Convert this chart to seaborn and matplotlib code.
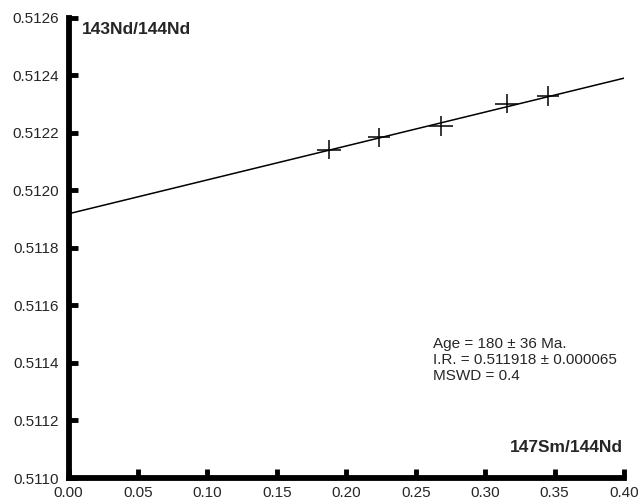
import numpy as np
import pandas as pd
import matplotlib
matplotlib.use("Agg")
import matplotlib.pyplot as plt
import seaborn as sns

# Data
sm_nd = [0.1876, 0.2236, 0.2682, 0.3155, 0.3451]
nd_nd = [0.512140, 0.512184, 0.512223, 0.512300, 0.512327]
x_err = [0.0084, 0.0080, 0.0085, 0.0085, 0.0080]
y_err = [0.000033, 0.000033, 0.000035, 0.000033, 0.000034]

intercept = 0.511918
slope = 0.001178
line_x = [0.0, 0.40]

x_ticks = [0.00, 0.05, 0.10, 0.15, 0.20, 0.25, 0.30, 0.35, 0.40]
y_ticks = [0.5110, 0.5112, 0.5114, 0.5116, 0.5118, 0.5120, 0.5122, 0.5124, 0.5126]

annot_lines = ["Age = 180 \u00b1 36 Ma.",
               "I.R. = 0.511918 \u00b1 0.000065",
               "MSWD = 0.4"]

sns.set_style("white")
plt.rcParams['font.family'] = ['Liberation Sans', 'DejaVu Sans']

fig = plt.figure(figsize=(6.4, 5.01), dpi=100)
ax = fig.add_axes([68.5/640, 1-478/501, 555.5/640, 460.5/501])

line_df = pd.DataFrame({"x": line_x, "y": [intercept + slope * v for v in line_x]})
sns.lineplot(data=line_df, x="x", y="y", color="black", linewidth=1.1, ax=ax)

ax.errorbar(sm_nd, nd_nd, xerr=x_err, yerr=y_err, fmt='none', ecolor='black',
            elinewidth=1.1, capsize=0)

ax.set_xlim(0, 0.40)
ax.set_ylim(0.5110, 0.5126)
ax.set_xticks(x_ticks)
ax.set_yticks(y_ticks)
ax.set_xticklabels([f"{v:.2f}" for v in x_ticks])
ax.set_yticklabels([f"{v:.4f}" for v in y_ticks])
ax.tick_params(bottom=True, left=True, top=False, right=False,
               direction='in', length=6.5, width=3.5, labelsize=11, color='black')
ax.tick_params(axis='y', pad=7)
ax.tick_params(axis='x', pad=6)
ax.set_xlabel("")
ax.set_ylabel("")

for s in ['left', 'bottom']:
    ax.spines[s].set_linewidth(4.2)
    ax.spines[s].set_color('black')
for s in ['top', 'right']:
    ax.spines[s].set_visible(False)

ax.text((82 - 68.5) / 555.5, (478 - 30) / 460.5, "143Nd/144Nd", transform=ax.transAxes,
        fontsize=12.5, fontweight='bold', ha='left', va='center')
ax.text((623 - 68.5) / 555.5, (478 - 447) / 460.5, "147Sm/144Nd", transform=ax.transAxes,
        fontsize=12.5, fontweight='bold', ha='right', va='center')
for i, t in enumerate(annot_lines):
    ax.text((433 - 68.5) / 555.5, (478 - (344 + 16 * i)) / 460.5, t,
            transform=ax.transAxes, fontsize=11, ha='left', va='center')

fig.savefig("out.png", dpi=100)
